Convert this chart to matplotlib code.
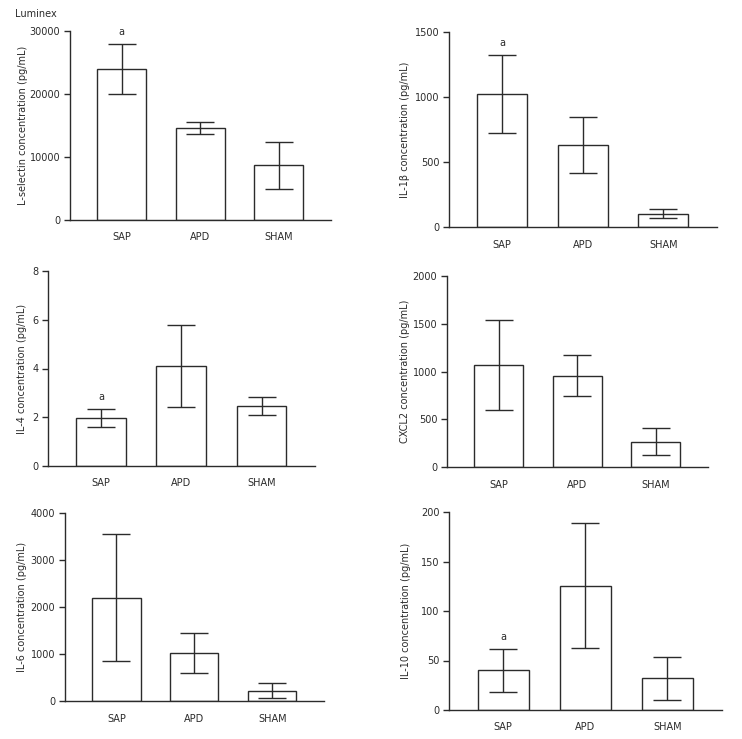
import numpy as np
import matplotlib
matplotlib.use("Agg")
import matplotlib.pyplot as plt

groups = ["SAP", "APD", "SHAM"]

# means and SD, one list per panel
lsel_mean = [24000, 14600, 8700]
lsel_sd = [4000, 1000, 3700]
il1b_mean = [1024, 630, 102]
il1b_sd = [300, 215, 34]
il4_mean = [1.97, 4.10, 2.48]
il4_sd = [0.38, 1.69, 0.37]
cxcl2_mean = [1066, 958, 266]
cxcl2_sd = [472, 210, 145]
il6_mean = [2199, 1028, 220]
il6_sd = [1348, 422, 156]
il10_mean = [40.3, 125.7, 31.9]
il10_sd = [21.7, 62.7, 21.3]

ylabels = ["L-selectin concentration (pg/mL)", "IL-1β concentration (pg/mL)",
           "IL-4 concentration (pg/mL)", "CXCL2 concentration (pg/mL)",
           "IL-6 concentration (pg/mL)", "IL-10 concentration (pg/mL)"]
ymaxes = [30000, 1500, 8, 2000, 4000, 200]
ysteps = [10000, 500, 2, 500, 1000, 50]
sig_marks = [[0], [0], [0], [], [], [0]]  # bars with an "a" above

W, H = 742, 739
# axes boxes in pixels: left, right, top, bottom
boxes = [(70, 331, 31, 220), (449, 717, 32, 227),
         (48, 315, 271, 466), (447, 708, 276, 467),
         (65, 324, 513, 701), (449, 722, 512, 710)]
label_x = [23, 405, 22, 405, 22, 406]  # y label centres in pixels

panels = [(lsel_mean, lsel_sd), (il1b_mean, il1b_sd), (il4_mean, il4_sd),
          (cxcl2_mean, cxcl2_sd), (il6_mean, il6_sd), (il10_mean, il10_sd)]

col = "#2b2b2b"
fs = 7

fig = plt.figure(figsize=(W / 100, H / 100), dpi=100)
x = np.arange(len(groups))

for i, (mean, sd) in enumerate(panels):
    l, r, t, b = boxes[i]
    ax = fig.add_axes([l / W, 1 - b / H, (r - l) / W, (b - t) / H])
    ax.bar(x, mean, width=0.62, color="white", edgecolor=col, linewidth=1.0, zorder=2)
    ax.errorbar(x, mean, yerr=sd, fmt="none", ecolor=col, elinewidth=1.0,
                capsize=10, capthick=1.0, zorder=3)
    for j in sig_marks[i]:
        ax.annotate("a", (x[j], mean[j] + sd[j]), xytext=(0, 5),
                    textcoords="offset points", ha="center", va="bottom", fontsize=fs, color=col)
    ax.set_xlim(-0.66, 2.665)
    ax.set_ylim(0, ymaxes[i])
    ax.set_yticks(np.arange(0, ymaxes[i] + ysteps[i] / 2, ysteps[i]))
    ax.set_xticks(x)
    ax.set_xticklabels(groups)
    ax.spines["top"].set_visible(False)
    ax.spines["right"].set_visible(False)
    for s in ["left", "bottom"]:
        ax.spines[s].set_color(col)
        ax.spines[s].set_linewidth(1.0)
    ax.tick_params(axis="y", direction="out", length=4, width=1.0, color=col,
                   labelsize=fs, labelcolor=col, pad=3)
    ax.tick_params(axis="x", direction="in", length=5, width=1.0, color=col,
                   labelsize=fs, labelcolor=col, pad=9)
    fig.text(label_x[i] / W, 1 - (t + b) / 2 / H, ylabels[i], rotation=90,
             ha="center", va="center", fontsize=fs, color=col)

fig.text(15 / W, 1 - 14 / H, "Luminex", fontsize=fs, color=col, va="center", ha="left")

fig.savefig("out.png", dpi=100)
